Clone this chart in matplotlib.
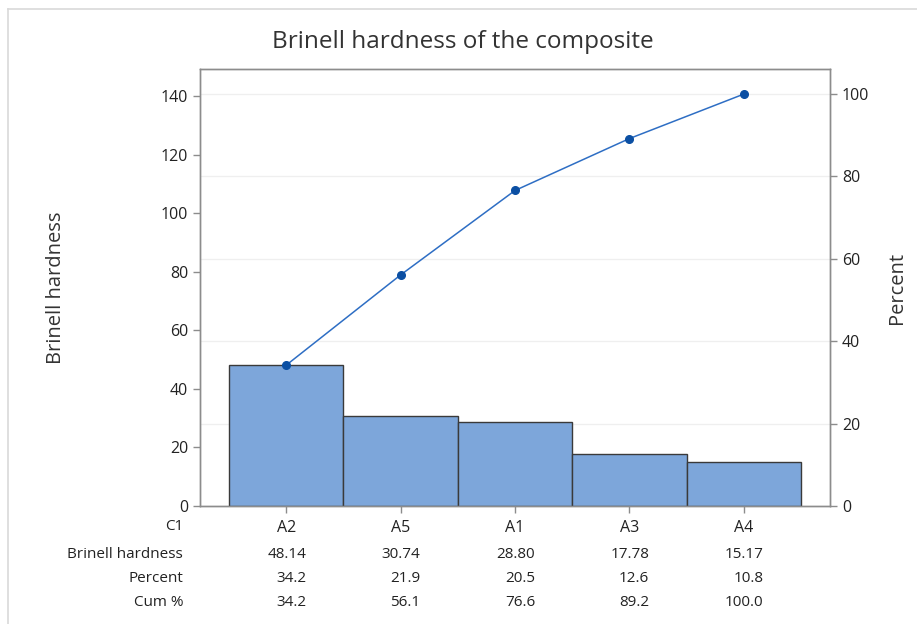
import matplotlib.pyplot as plt
import numpy as np
from matplotlib.lines import Line2D

plt.rcParams['font.family'] = ['Open Sans', 'DejaVu Sans']

# data
categories = ['A2', 'A5', 'A1', 'A3', 'A4']
hardness = [48.14, 30.74, 28.80, 17.78, 15.17]
percent = [34.2, 21.9, 20.5, 12.6, 10.8]
cum_percent = [34.2, 56.1, 76.6, 89.2, 100.0]
left_ticks = [0, 20, 40, 60, 80, 100, 120, 140]
right_ticks = [0, 20, 40, 60, 80, 100]

txt = '#222222'
spine_c = '#8c8c8c'

fig = plt.figure(figsize=(9.17, 6.24), dpi=100)
ax = fig.add_axes([200 / 917, 1 - 506 / 624, 630 / 917, 437 / 624])
ax2 = ax.twinx()

total = sum(hardness)
ymax = 149.2
ax.set_ylim(0, ymax)
ax2.set_ylim(0, ymax * 100 / total)
x = np.arange(len(categories))
ax.set_xlim(-0.754, 4.754)

# faint gridlines at the percent ticks
for t in right_ticks[1:]:
    ax2.axhline(t, color='#efefef', lw=0.9, zorder=0)

ax.bar(x, hardness, width=1.0, color='#7da6da', edgecolor='#3a3a3a', linewidth=1.0, zorder=2)

ax.set_zorder(ax2.get_zorder() + 1)
ax.patch.set_visible(False)
# cumulative line drawn on the left axis scale
cum_left = [c * total / 100 for c in cum_percent]
ax.plot(x, cum_left, color='#2e6ec4', lw=1.1, marker='o', ms=5.5,
        mfc='#0b4fa3', mec='#0b4fa3', zorder=3)

ax.set_yticks(left_ticks)
ax2.set_yticks(right_ticks)
ax.set_xticks(x)
ax.set_xticklabels(categories)
for a in (ax, ax2):
    for s in a.spines.values():
        s.set_color(spine_c)
        s.set_linewidth(1.0)
    a.tick_params(colors=spine_c, labelcolor=txt, labelsize=11.5, length=5, width=1)
ax.tick_params(axis='x', pad=5)

ax.set_ylabel('Brinell hardness', fontsize=14.5, color='#333333')
ax.yaxis.set_label_coords(-0.212, 0.5)
ax2.set_ylabel('Percent', fontsize=14.5, color='#333333')
ax2.yaxis.set_label_coords(1.090, 0.5)

fig.text(463 / 917, 1 - 42 / 624, 'Brinell hardness of the composite', fontsize=17.5,
         color='#333333', ha='center', va='center')

# table under the chart
row_y = [527, 554, 578, 602]
row_labels = ['C1', 'Brinell hardness', 'Percent', 'Cum %']
for yy, lab in zip(row_y, row_labels):
    fig.text(183 / 917, 1 - yy / 624, lab, fontsize=11, color=txt, ha='right', va='center')
rows = [[f'{v:.2f}' for v in hardness], [f'{v:.1f}' for v in percent],
        [f'{v:.1f}' for v in cum_percent]]
for yy, vals in zip(row_y[1:], rows):
    for i, v in enumerate(vals):
        xd = ax.transData.transform((i, 0))[0]
        fig.text((xd + 20) / 917, 1 - yy / 624, v, fontsize=11, color=txt,
                 ha='right', va='center')

# light border around the frame
fig.add_artist(Line2D([8 / 917, 8 / 917], [0, 1 - 9 / 624], transform=fig.transFigure,
                      color='#d9d9d9', lw=1.2))
fig.add_artist(Line2D([8 / 917, 1], [1 - 9 / 624, 1 - 9 / 624], transform=fig.transFigure,
                      color='#d9d9d9', lw=1.2))

fig.savefig('out.png', dpi=100)
